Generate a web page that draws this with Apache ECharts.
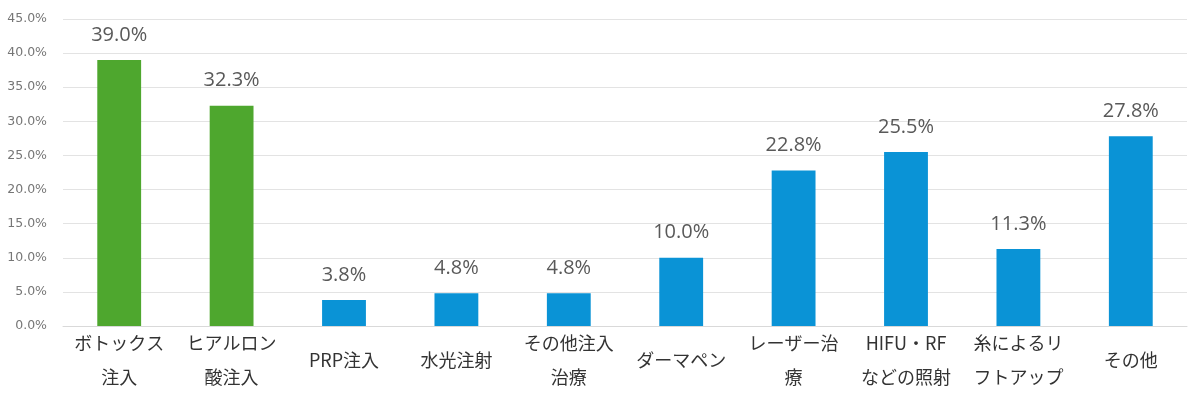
<!DOCTYPE html>
<html><head><meta charset="utf-8">
<script src="https://cdn.jsdelivr.net/npm/echarts@6/dist/echarts.min.js"></script>
<style>html,body{margin:0;padding:0;background:#fff}#c{width:1200px;height:394px}</style>
</head><body><div id="c"></div>
<script>
const categories = ['ボトックス\n注入','ヒアルロン\n酸注入','PRP注入','水光注射','その他注入\n治療','ダーマペン','レーザー治\n療','HIFU・RF\nなどの照射','糸によるリ\nフトアップ','その他'];
const values = [39.0, 32.3, 3.8, 4.8, 4.8, 10.0, 22.8, 25.5, 11.3, 27.8];
const highlighted = [0, 1];
const GREEN = '#4EA72E', BLUE = '#0A93D6';
const chart = echarts.init(document.getElementById('c'));
chart.setOption({
  animation: false,
  grid: { left: 63, right: 13, top: 19, bottom: 67, containLabel: false },
  xAxis: {
    type: 'category', data: categories,
    axisLine: { lineStyle: { color: '#d9d9d9' } },
    axisTick: { show: false },
    axisLabel: { interval: 0, fontSize: 18, color: '#333', lineHeight: 34, verticalAlign: 'middle', margin: 34,
      fontFamily: '"Noto Sans CJK JP", sans-serif' }
  },
  yAxis: {
    type: 'value', min: 0, max: 45, interval: 5,
    axisLine: { show: false }, axisTick: { show: false },
    splitLine: { lineStyle: { color: '#e3e3e3' } },
    axisLabel: { fontSize: 12.5, color: '#767676', margin: 16, formatter: v => v.toFixed(1) + '%',
      fontFamily: '"DejaVu Sans", sans-serif' }
  },
  series: [{
    type: 'bar', barWidth: '39%',
    data: values.map((v, i) => ({ value: v, itemStyle: { color: highlighted.includes(i) ? GREEN : BLUE } })),
    label: { show: true, position: 'top', distance: 15, fontSize: 20, color: '#595959',
      fontFamily: '"Open Sans", sans-serif', formatter: p => p.value.toFixed(1) + '%' }
  }]
});
</script></body></html>
